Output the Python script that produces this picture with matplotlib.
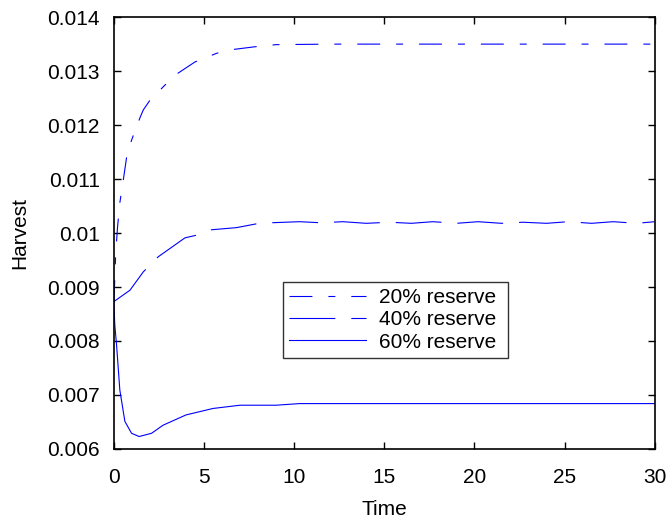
import matplotlib
matplotlib.use("Agg")
import matplotlib.pyplot as plt

plt.rcParams['font.family'] = ['Liberation Sans', 'DejaVu Sans']
plt.rcParams['lines.scale_dashes'] = False

# 20% reserve
t20 = [0, 0.1, 0.2, 0.33, 0.52, 0.7, 0.98, 1.44, 1.63, 2.0, 2.83, 3.55, 4.5, 5.7, 6.6, 7.8, 9.0, 12, 15, 20, 25, 30]
h20 = [0.0087, 0.0096, 0.0101, 0.01056, 0.01098, 0.01139, 0.01172, 0.01213, 0.01228, 0.01246,
       0.01274, 0.01296, 0.01317, 0.01333, 0.01340, 0.01345, 0.01349, 0.01350, 0.01350, 0.01350, 0.01350, 0.01350]

# 40% reserve
t40 = [0, 0.89, 1.63, 2.46, 3.94, 4.58, 5.4, 6.8, 7.9, 8.7, 10.3, 11.5, 12.7, 14.0, 15.3, 16.5, 17.7,
       19.0, 20.2, 21.5, 22.7, 24.0, 25.2, 26.5, 27.7, 29.0, 30]
h40 = [0.00873, 0.00894, 0.00928, 0.00956, 0.00991, 0.00996, 0.01006, 0.01010, 0.01017, 0.01019, 0.01021,
       0.01019, 0.01021, 0.01018, 0.01020, 0.01018, 0.01021, 0.01018, 0.01021, 0.01018, 0.01020,
       0.01018, 0.01021, 0.01018, 0.01021, 0.01018, 0.01021]

# 60% reserve
t60 = [0, 0.05, 0.15, 0.33, 0.61, 0.98, 1.4, 2.09, 2.73, 4.0, 5.5, 7.0, 9.0, 10.3, 15, 20, 25, 30]
h60 = [0.0087, 0.0083, 0.00792, 0.00709, 0.00651, 0.00629, 0.00623, 0.00629, 0.00644, 0.00663,
       0.00675, 0.00681, 0.00681, 0.00684, 0.00684, 0.00684, 0.00684, 0.00684]

labels = ['20% reserve', '40% reserve', '60% reserve']

fig = plt.figure(figsize=(6.66, 5.19), dpi=100)
ax = fig.add_axes([0.171, 0.135, 0.812, 0.832])

blue = (0, 0, 1)
l1, = ax.plot(t20, h20, color=blue, lw=0.8, label=labels[0])
l1.set_dashes([16.5, 11.5, 5, 11.5])
l2, = ax.plot(t40, h40, color=blue, lw=0.8, label=labels[1])
l2.set_dashes([33, 11.5])
l3, = ax.plot(t60, h60, color=blue, lw=0.8, label=labels[2])

ax.set_xlim(0, 30)
ax.set_ylim(0.006, 0.014)
ax.set_xticks([0, 5, 10, 15, 20, 25, 30])
ax.set_yticks([0.006, 0.007, 0.008, 0.009, 0.010, 0.011, 0.012, 0.013, 0.014])
ax.set_yticklabels(['0.006', '0.007', '0.008', '0.009', '0.01', '0.011', '0.012', '0.013', '0.014'])
ax.tick_params(direction='in', top=True, right=True, length=5, width=1, labelsize=15)
ax.tick_params(axis='x', pad=14)
ax.tick_params(axis='y', pad=10)
for s in ax.spines.values():
    s.set_linewidth(1.2)
ax.set_xlabel('Time', fontsize=15, labelpad=9)
ax.set_ylabel('Harvest', fontsize=15, labelpad=13)

leg = ax.legend(loc='lower left', bbox_to_anchor=(0.312, 0.211, 0.416, 0.208), mode='expand',
                fontsize=15, frameon=True, fancybox=False, edgecolor='black',
                handlelength=3.7, handletextpad=0.65, borderpad=0.3, labelspacing=0.15,
                borderaxespad=0)
leg.get_frame().set_linewidth(1.0)

fig.savefig('out.png', dpi=100)
